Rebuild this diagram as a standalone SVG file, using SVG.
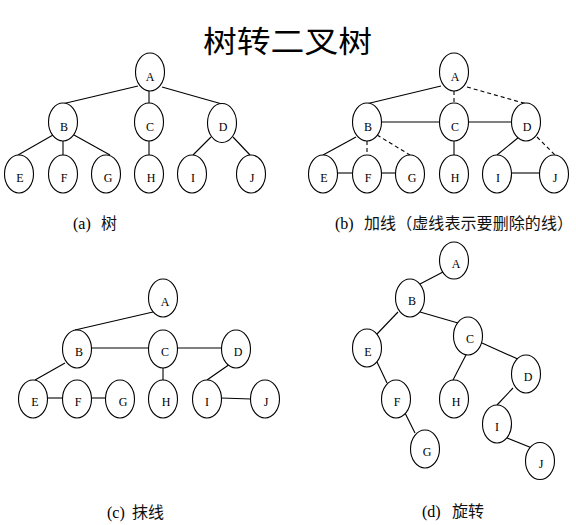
<svg xmlns="http://www.w3.org/2000/svg" width="576" height="525" viewBox="0 0 576 525">
<style>
.n ellipse{fill:#fff;stroke:#000;stroke-width:1.1}
.n text{font-family:"Liberation Serif",serif;font-size:12px;text-anchor:middle;fill:#000}
.e line{stroke:#000;stroke-width:1.1}
.e line.d{stroke-dasharray:4 3}
.cap{font-family:"Liberation Serif","Noto Sans CJK SC",serif;font-size:16px;fill:#000}
.cj{font-family:"Noto Sans CJK SC",sans-serif;font-size:16px;fill:#111}
</style>
<rect width="576" height="525" fill="#fff"/>
<text x="203" y="52" font-family="Noto Sans CJK SC, sans-serif" font-size="30" textLength="169" lengthAdjust="spacingAndGlyphs" fill="#000">树转二叉树</text>

<!-- connectors -->
<g id="connectors" class="e">
 <!-- (a) -->
 <line x1="138" y1="86" x2="62" y2="104"/>
 <line x1="149" y1="91" x2="149" y2="103"/>
 <line x1="162" y1="87" x2="222" y2="104"/>
 <line x1="53" y1="135" x2="18" y2="155"/>
 <line x1="63" y1="141" x2="63" y2="155"/>
 <line x1="74" y1="135" x2="110" y2="155"/>
 <line x1="149" y1="141" x2="149" y2="155"/>
 <line x1="211" y1="137" x2="193" y2="155"/>
 <line x1="233" y1="137" x2="250" y2="155"/>
 <!-- (b) -->
 <line x1="441" y1="86" x2="366" y2="104"/>
 <line class="d" x1="454" y1="91" x2="454" y2="103"/>
 <line class="d" x1="467" y1="87" x2="527" y2="104"/>
 <line x1="381" y1="122" x2="439" y2="122"/>
 <line x1="468" y1="122" x2="512" y2="122"/>
 <line x1="356" y1="137" x2="323" y2="155"/>
 <line class="d" x1="367" y1="141" x2="367" y2="155"/>
 <line class="d" x1="377" y1="135" x2="410" y2="155"/>
 <line x1="454" y1="141" x2="454" y2="155"/>
 <line x1="519" y1="137" x2="497" y2="155"/>
 <line class="d" x1="537" y1="137" x2="555" y2="155"/>
 <line x1="337" y1="173" x2="352" y2="173"/>
 <line x1="381" y1="173" x2="396" y2="173"/>
 <line x1="511" y1="173" x2="540" y2="173"/>
 <!-- (c) -->
 <line x1="153" y1="312" x2="75" y2="330"/>
 <line x1="91" y1="348" x2="149" y2="348"/>
 <line x1="177" y1="348" x2="222" y2="348"/>
 <line x1="65" y1="363" x2="35" y2="380"/>
 <line x1="47" y1="398" x2="63" y2="398"/>
 <line x1="91" y1="398" x2="106" y2="398"/>
 <line x1="163" y1="367" x2="163" y2="380"/>
 <line x1="230" y1="364" x2="207" y2="380"/>
 <line x1="221" y1="398" x2="251" y2="399"/>
 <!-- (d) -->
 <line x1="443" y1="272" x2="420" y2="284"/>
 <line x1="398" y1="312" x2="377" y2="334"/>
 <line x1="420" y1="312" x2="458" y2="323"/>
 <line x1="377" y1="362" x2="387" y2="383"/>
 <line x1="405" y1="413" x2="415" y2="433"/>
 <line x1="467" y1="353" x2="453" y2="380"/>
 <line x1="482" y1="343" x2="520" y2="360"/>
 <line x1="513" y1="388" x2="497" y2="405"/>
 <line x1="507" y1="438" x2="532" y2="448"/>
</g>

<!-- (a) nodes -->
<g id="a_A" class="n"><ellipse cx="150" cy="72" rx="14.5" ry="19"/><text x="150" y="81">A</text></g>
<g id="a_B" class="n"><ellipse cx="63" cy="122" rx="14.5" ry="19"/><text x="64" y="131">B</text></g>
<g id="a_C" class="n"><ellipse cx="149" cy="122" rx="14.5" ry="19"/><text x="150" y="131">C</text></g>
<g id="a_D" class="n"><ellipse cx="222" cy="123" rx="14.5" ry="19.5"/><text x="223" y="131">D</text></g>
<g id="a_E" class="n"><ellipse cx="19" cy="174" rx="14.5" ry="19"/><text x="20" y="182">E</text></g>
<g id="a_F" class="n"><ellipse cx="63" cy="174" rx="14.5" ry="19"/><text x="64" y="182">F</text></g>
<g id="a_G" class="n"><ellipse cx="106" cy="174" rx="14.5" ry="19"/><text x="108" y="182">G</text></g>
<g id="a_H" class="n"><ellipse cx="149" cy="174" rx="14.5" ry="19"/><text x="151" y="182">H</text></g>
<g id="a_I" class="n"><ellipse cx="192" cy="174" rx="14.5" ry="19"/><text x="193" y="182">I</text></g>
<g id="a_J" class="n"><ellipse cx="251" cy="174" rx="14.5" ry="19"/><text x="252" y="182">J</text></g>

<!-- (b) nodes -->
<g id="b_A" class="n"><ellipse cx="454" cy="72" rx="14.5" ry="19"/><text x="455" y="81">A</text></g>
<g id="b_B" class="n"><ellipse cx="367" cy="122" rx="14.5" ry="19"/><text x="368" y="131">B</text></g>
<g id="b_C" class="n"><ellipse cx="454" cy="122" rx="14.5" ry="19"/><text x="455" y="131">C</text></g>
<g id="b_D" class="n"><ellipse cx="526" cy="122" rx="14.5" ry="19"/><text x="527" y="131">D</text></g>
<g id="b_E" class="n"><ellipse cx="323" cy="174" rx="14.5" ry="19"/><text x="324" y="182">E</text></g>
<g id="b_F" class="n"><ellipse cx="367" cy="174" rx="14.5" ry="19"/><text x="368" y="182">F</text></g>
<g id="b_G" class="n"><ellipse cx="410" cy="174" rx="14.5" ry="19"/><text x="412" y="182">G</text></g>
<g id="b_H" class="n"><ellipse cx="454" cy="174" rx="14.5" ry="19"/><text x="455" y="182">H</text></g>
<g id="b_I" class="n"><ellipse cx="497" cy="174" rx="14.5" ry="19"/><text x="498" y="182">I</text></g>
<g id="b_J" class="n"><ellipse cx="554" cy="174" rx="14.5" ry="19"/><text x="555" y="182">J</text></g>

<!-- (c) nodes -->
<g id="c_A" class="n"><ellipse cx="163" cy="298" rx="14.5" ry="19"/><text x="165" y="306">A</text></g>
<g id="c_B" class="n"><ellipse cx="77" cy="349" rx="14.5" ry="19"/><text x="79" y="356">B</text></g>
<g id="c_C" class="n"><ellipse cx="163" cy="349" rx="14.5" ry="19"/><text x="165" y="356">C</text></g>
<g id="c_D" class="n"><ellipse cx="236" cy="349" rx="14.5" ry="19"/><text x="238" y="356">D</text></g>
<g id="c_E" class="n"><ellipse cx="33" cy="399" rx="14.5" ry="19"/><text x="35" y="406">E</text></g>
<g id="c_F" class="n"><ellipse cx="77" cy="399" rx="14.5" ry="19"/><text x="78" y="406">F</text></g>
<g id="c_G" class="n"><ellipse cx="120" cy="399" rx="14.5" ry="19"/><text x="123" y="406">G</text></g>
<g id="c_H" class="n"><ellipse cx="163" cy="399" rx="14.5" ry="19"/><text x="166" y="406">H</text></g>
<g id="c_I" class="n"><ellipse cx="207" cy="399" rx="14.5" ry="19"/><text x="207" y="406">I</text></g>
<g id="c_J" class="n"><ellipse cx="265" cy="399" rx="14.5" ry="19"/><text x="266" y="406">J</text></g>

<!-- (d) nodes -->
<g id="d_A" class="n"><ellipse cx="454" cy="260.5" rx="14.5" ry="18.5"/><text x="456" y="268">A</text></g>
<g id="d_B" class="n"><ellipse cx="410" cy="298" rx="14.5" ry="19"/><text x="412" y="305">B</text></g>
<g id="d_C" class="n"><ellipse cx="468" cy="336" rx="14.5" ry="19"/><text x="470" y="343">C</text></g>
<g id="d_D" class="n"><ellipse cx="526" cy="374" rx="14.5" ry="19"/><text x="528" y="381">D</text></g>
<g id="d_E" class="n"><ellipse cx="367" cy="348" rx="14.5" ry="19"/><text x="368" y="356">E</text></g>
<g id="d_F" class="n"><ellipse cx="396" cy="399" rx="14.5" ry="19"/><text x="397" y="406">F</text></g>
<g id="d_G" class="n"><ellipse cx="425" cy="449" rx="14.5" ry="19"/><text x="427" y="456">G</text></g>
<g id="d_H" class="n"><ellipse cx="454" cy="399" rx="14.5" ry="19"/><text x="456" y="406">H</text></g>
<g id="d_I" class="n"><ellipse cx="497" cy="424" rx="14.5" ry="19"/><text x="497" y="431">I</text></g>
<g id="d_J" class="n"><ellipse cx="540" cy="461" rx="14.5" ry="18.5"/><text x="541" y="468">J</text></g>

<!-- captions -->
<text class="cap" y="229"><tspan x="73">(a)</tspan><tspan class="cj" x="101">树</tspan></text>
<text class="cap" y="229"><tspan x="335">(b)</tspan><tspan class="cj" x="364" textLength="209" lengthAdjust="spacing">加线（虚线表示要删除的线）</tspan></text>
<text class="cap" y="518"><tspan x="107">(c)</tspan><tspan class="cj" x="132">抹线</tspan></text>
<text class="cap" y="517"><tspan x="422">(d)</tspan><tspan class="cj" x="452">旋转</tspan></text>
</svg>
